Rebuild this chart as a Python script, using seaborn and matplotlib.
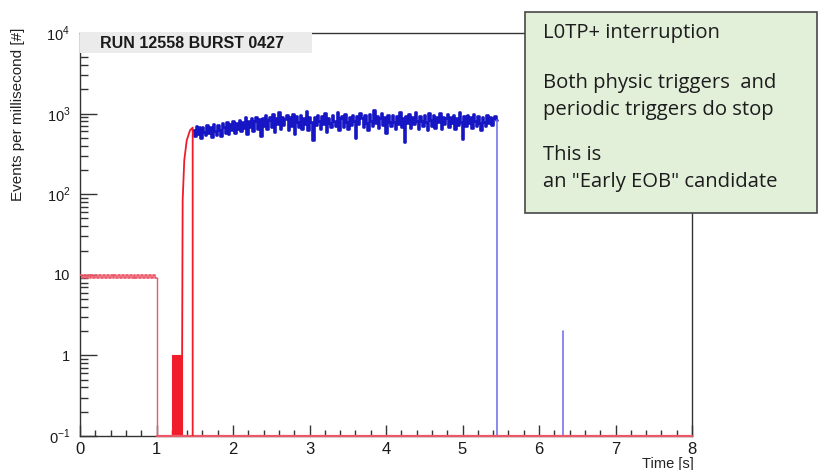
import numpy as np
import pandas as pd
import matplotlib
matplotlib.use("Agg")
import matplotlib.pyplot as plt
import seaborn as sns
from matplotlib.patches import Rectangle
from matplotlib.ticker import FixedLocator, LogLocator, MultipleLocator, NullFormatter

# ---- data -------------------------------------------------------------
# periodic trigger rate before the burst (0.025 s bins, 0 - 1 s)
periodic_bin = 0.025
periodic_rate = [10, 9] * 20

# sparse bins ahead of the ramp
pre_ramp_edges = [1.0, 1.2, 1.335]
pre_ramp_rate = [0, 1]

# rising edge at the start of the burst
ramp_time = [1.335, 1.342, 1.363, 1.395, 1.438, 1.473]
ramp_rate = [1, 84, 263, 465, 620, 670]

# physics trigger rate during the burst (0.02 s bins)
physics_start = 1.473
physics_bin = 0.02
physics_rate = [
    620, 520, 700, 560, 680, 500, 690, 590, 540, 720,
    580, 690, 510, 740, 600, 550, 720, 630, 520, 760,
    680, 580, 780, 560, 740, 620, 820, 570, 760, 650,
    840, 600, 780, 660, 900, 560, 800, 690, 880, 610,
    800, 920, 640, 850, 520, 890, 700, 970, 640, 840,
    900, 680, 980, 590, 870, 740, 1040, 650, 910, 720,
    860, 950, 620, 900, 700, 1000, 560, 930, 780, 680,
    970, 640, 880, 740, 1080, 620, 900, 780, 470, 920,
    720, 960, 800, 640, 930, 740, 1010, 590, 890, 760,
    680, 950, 820, 700, 1050, 630, 870, 930, 690, 980,
    790, 650, 900, 720, 970, 800, 500, 930, 740, 1020,
    880, 690, 950, 770, 630, 990, 800, 700, 1100, 760,
    930, 660, 880, 1010, 720, 900, 580, 960, 780, 700,
    970, 790, 650, 930, 750, 1040, 680, 890, 450, 940,
    770, 990, 670, 900, 740, 1060, 800, 640, 940, 810,
    700, 960, 780, 620, 1010, 830, 710, 970, 660, 900,
    790, 1030, 650, 920, 740, 880, 990, 680, 910, 770,
    950, 640, 870, 730, 1040, 780, 490, 930, 700, 960,
    760, 900, 670, 990, 800, 710, 930, 770, 620, 900,
    790, 700, 950, 760, 900, 720, 880, 930, 840,
]

# isolated event after the stop
late_time = 6.318
late_rate = 2

x_range = (0, 8)
y_range = (0.1, 1e4)
x_ticks = list(range(9))
y_ticks = [1e-1, 1, 10, 1e2, 1e3, 1e4]
y_tick_labels = [r"0$^{-1}$", "1", "10", r"10$^{2}$", r"10$^{3}$", r"10$^{4}$"]

run_label = "RUN 12558 BURST 0427"
note_lines = [
    ("L0TP+ interruption", 38),
    ("Both physic triggers  and", 88),
    ("periodic triggers do stop", 115),
    ("This is", 160),
    ('an "Early EOB" candidate', 187),
]

# ---- style ------------------------------------------------------------
sns.set_theme(style="ticks")
plt.rcParams["font.family"] = ["Liberation Sans", "DejaVu Sans"]
plt.rcParams["mathtext.fontset"] = "custom"
plt.rcParams["mathtext.rm"] = "Liberation Sans"

W, H = 818, 470
fig = plt.figure(figsize=(W / 100, H / 100), dpi=100)
ax_l, ax_r, ax_t, ax_b = 80, 692, 33, 436
ax = fig.add_axes([ax_l / W, 1 - ax_b / H, (ax_r - ax_l) / W, (ax_b - ax_t) / H])
ax.set_yscale("log")
ax.set_xlim(*x_range)
ax.set_ylim(*y_range)

floor = y_range[0]
RED = "#f01c2c"
PINK = "#ec5868"
BLUE = "#1616c4"
LIGHT_BLUE = "#7474ee"


def clip_floor(vals):
    return [max(v, floor) for v in vals]


# periodic rate before 1 s
per_edges = [i * periodic_bin for i in range(len(periodic_rate) + 1)]
per_vals = clip_floor(periodic_rate + [periodic_rate[-1]])
per_df = pd.DataFrame({"t": per_edges, "rate": per_vals})
sns.lineplot(data=per_df, x="t", y="rate", ax=ax, color=PINK, lw=1.2,
             drawstyle="steps-post", sort=False, estimator=None, zorder=3)

# sparse bins: filled bar at 1.2 - 1.335 s
ax.bar(pre_ramp_edges[1], pre_ramp_rate[1] - floor, bottom=floor,
       width=pre_ramp_edges[2] - pre_ramp_edges[1], align="edge",
       color=RED, edgecolor=RED, lw=0.8, zorder=3)

# ramp, then drop to the floor
ramp_df = pd.DataFrame({"t": ramp_time + [ramp_time[-1]], "rate": ramp_rate + [floor]})
sns.lineplot(data=ramp_df, x="t", y="rate", ax=ax, color=RED, lw=1.3,
             sort=False, estimator=None, zorder=4)

# physics rate as a step histogram
ph_edges = [physics_start + i * physics_bin for i in range(len(physics_rate) + 1)]
ph_df = pd.DataFrame({"t": ph_edges, "rate": physics_rate + [physics_rate[-1]]})
sns.lineplot(data=ph_df, x="t", y="rate", ax=ax, color=BLUE, lw=1.9,
             drawstyle="steps-post", sort=False, estimator=None, zorder=3)
# end of burst: drop to the floor
end_df = pd.DataFrame({"t": [ph_edges[-1], ph_edges[-1]], "rate": [physics_rate[-1], floor]})
sns.lineplot(data=end_df, x="t", y="rate", ax=ax, color=LIGHT_BLUE, lw=1.2,
             sort=False, estimator=None, zorder=3)

# isolated late event
late_df = pd.DataFrame({"t": [late_time, late_time], "rate": [floor, late_rate]})
sns.lineplot(data=late_df, x="t", y="rate", ax=ax, color=LIGHT_BLUE, lw=1.2,
             sort=False, estimator=None, zorder=3)

# vertical edge of the periodic block and the empty-bin floor
edge_df = pd.DataFrame({"t": [1.0, 1.0], "rate": [periodic_rate[-1], floor]})
sns.lineplot(data=edge_df, x="t", y="rate", ax=ax, color=PINK, lw=1.0,
             sort=False, estimator=None, zorder=3)
floor_df = pd.DataFrame({"t": [per_edges[-1], x_range[1]], "rate": [floor, floor]})
sns.lineplot(data=floor_df, x="t", y="rate", ax=ax, color=PINK, lw=1.6,
             sort=False, estimator=None, zorder=3.5).lines[-1].set_clip_on(False)

# ---- axes -------------------------------------------------------------
ax.set_xlabel("")
ax.set_ylabel("")
for s in ax.spines.values():
    s.set_color("#333333")
    s.set_linewidth(1.0)
ax.xaxis.set_major_locator(FixedLocator(x_ticks))
ax.xaxis.set_minor_locator(MultipleLocator(0.2))
ax.set_xticklabels([str(v) for v in x_ticks])
ax.yaxis.set_major_locator(FixedLocator(y_ticks))
ax.set_yticklabels(y_tick_labels)
ax.yaxis.set_minor_locator(LogLocator(base=10, subs=np.arange(2, 10)))
ax.yaxis.set_minor_formatter(NullFormatter())
ax.tick_params(axis="x", which="major", direction="in", length=8, width=1,
               color="#333333", labelsize=12, pad=4, top=False, labelcolor="#1a1a1a")
ax.tick_params(axis="x", which="minor", direction="in", length=4, width=1,
               color="#333333", top=False)
ax.tick_params(axis="y", which="major", direction="in", length=12, width=1,
               color="#333333", labelsize=10.5, pad=7, right=False, labelcolor="#1a1a1a")
ax.tick_params(axis="y", which="minor", direction="in", length=6, width=1,
               color="#333333", right=False)

fig.text(18 / W, 1 - 28 / H, "Events per millisecond [#]", rotation=90,
         ha="center", va="top", fontsize=11, color="#222222")
fig.text(694 / W, 1 - 468 / H, "Time [s]", ha="right", va="baseline",
         fontsize=10.5, color="#222222")

# run / burst header box
fig.patches.append(Rectangle((ax_l / W, 1 - 53 / H), (312 - ax_l) / W, 21 / H,
                             transform=fig.transFigure, facecolor="#ebebeb",
                             edgecolor="none", zorder=5))
fig.text(100 / W, 1 - 43.5 / H, run_label, ha="left", va="center",
         fontsize=11.5, fontweight="bold", color="#1a1a1a", zorder=6)

# note box
fig.patches.append(Rectangle((525 / W, 1 - 213 / H), 292 / W, 201 / H,
                             transform=fig.transFigure, facecolor="#e2efd9",
                             edgecolor="#474747", lw=1.2, zorder=5))
for txt, ypix in note_lines:
    fig.text(543 / W, 1 - ypix / H, txt, ha="left", va="baseline",
             fontsize=14.6, family=["Open Sans", "DejaVu Sans"], color="#1c1c1c", zorder=6)

fig.savefig("out.png", dpi=100)
